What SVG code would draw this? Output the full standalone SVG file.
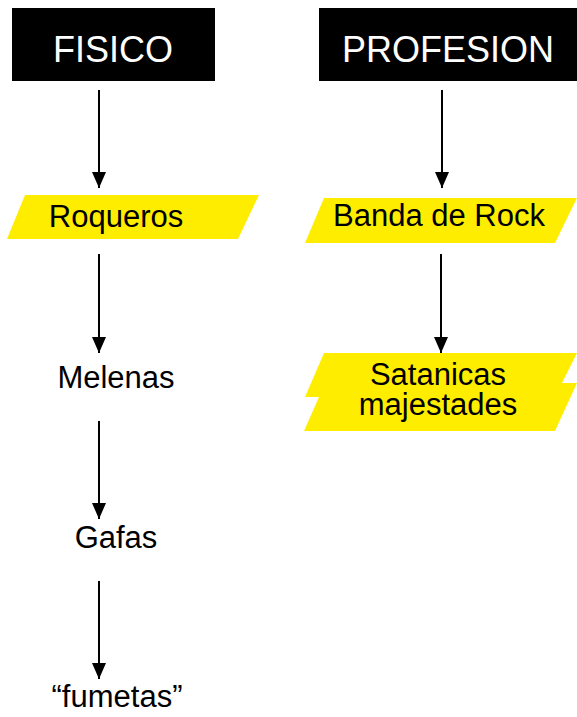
<svg xmlns="http://www.w3.org/2000/svg" width="577" height="717" viewBox="0 0 577 717">
  <defs>
    <style>
      .hdr { fill: #000000; }
      .hdrtxt { fill: #ffffff; font-family: "Liberation Sans", Arial, sans-serif; font-size: 36px; text-anchor: middle; }
      .txt { fill: #000000; font-family: "Liberation Sans", Arial, sans-serif; font-size: 31px; text-anchor: middle; }
      .yel { fill: #FFED00; }
      .conn { stroke: #000000; stroke-width: 2; fill: none; marker-end: url(#arrow); }
    </style>
    <marker id="arrow" markerUnits="userSpaceOnUse" viewBox="0 0 16 14" markerWidth="16" markerHeight="14" refX="16" refY="7" orient="auto">
      <path d="M0,0 L16,7 L0,14 z" fill="#000000"/>
    </marker>
  </defs>
  <rect width="577" height="717" fill="#ffffff"/>

  <g id="fisico">
    <rect class="hdr" x="12" y="8" width="203" height="73"/>
    <text class="hdrtxt" x="113" y="62">FISICO</text>
  </g>
  <g id="profesion">
    <rect class="hdr" x="319" y="8" width="258" height="73"/>
    <text class="hdrtxt" x="448" y="62">PROFESION</text>
  </g>
  <g id="roqueros">
    <polygon class="yel" points="25,195 259,195 238,239 7,239"/>
    <text class="txt" x="116" y="227">Roqueros</text>
  </g>
  <g id="banda">
    <polygon class="yel" points="324,198 577,198 555,243 305,243"/>
    <text class="txt" x="439" y="226">Banda de Rock</text>
  </g>
  <g id="satanicas">
    <polygon class="yel" points="324,353 577,353 562,383 577,383 555,431 304,431 319,397 305,397"/>
    <text class="txt" x="438" y="385">Satanicas</text>
    <text class="txt" x="438" y="415">majestades</text>
  </g>
  <g id="melenas">
    <text class="txt" x="116" y="388">Melenas</text>
  </g>
  <g id="gafas">
    <text class="txt" x="116" y="548">Gafas</text>
  </g>
  <g id="fumetas">
    <text class="txt" x="117" y="707">“fumetas”</text>
  </g>

  <g id="connectors">
    <line class="conn" x1="99" y1="90" x2="99" y2="188"/>
    <line class="conn" x1="442" y1="90" x2="442" y2="188"/>
    <line class="conn" x1="99" y1="254" x2="99" y2="353"/>
    <line class="conn" x1="441" y1="254" x2="441" y2="353"/>
    <line class="conn" x1="99" y1="421" x2="99" y2="519"/>
    <line class="conn" x1="99" y1="581" x2="99" y2="679"/>
  </g>
</svg>
